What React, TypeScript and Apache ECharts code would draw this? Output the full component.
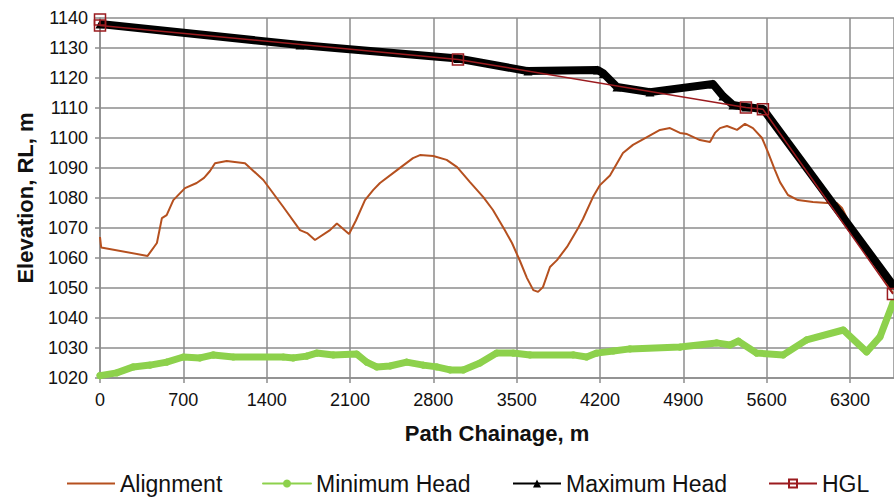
import React, { useEffect, useRef } from "react";
import * as echarts from "echarts";

const xTicks = [0, 700, 1400, 2100, 2800, 3500, 4200, 4900, 5600, 6300];
const yTicks = [1020, 1030, 1040, 1050, 1060, 1070, 1080, 1090, 1100, 1110, 1120, 1130, 1140];

const seriesNames = ["Alignment", "Minimum Head", "Maximum Head", "HGL"];

const alignment: [number, number][] = [
  [0, 1067], [10, 1063.5], [400, 1060.7], [478, 1065], [520, 1073.3], [560, 1074.3],
  [616, 1079.3], [714, 1083.3], [812, 1085], [874, 1086.7], [924, 1089], [966, 1091.6],
  [1064, 1092.3], [1218, 1091.6], [1372, 1086], [1540, 1077], [1680, 1069.3], [1740, 1068.3],
  [1806, 1066], [1932, 1069.3], [1990, 1071.5], [2092, 1068], [2150, 1072.5], [2226, 1079.3],
  [2296, 1082.7], [2352, 1085], [2495, 1089.3], [2629, 1093.3], [2688, 1094.3], [2800, 1094],
  [2912, 1092.7], [3000, 1090.3], [3108, 1085.3], [3220, 1080.3], [3301, 1076], [3400, 1069.3],
  [3461, 1065], [3528, 1059], [3587, 1053.3], [3640, 1049.3], [3680, 1048.7], [3721, 1050.3],
  [3780, 1057], [3839, 1059.3], [3923, 1063.7], [4007, 1069.3], [4057, 1073], [4141, 1080.3],
  [4200, 1084.3], [4284, 1087.5], [4393, 1095], [4477, 1097.7], [4595, 1100.3], [4704, 1102.7],
  [4788, 1103.3], [4872, 1101.7], [4931, 1101.3], [5040, 1099.3], [5124, 1098.7], [5166, 1101.7],
  [5208, 1103.3], [5267, 1104], [5351, 1102.7], [5418, 1104.7], [5485, 1103.3], [5561, 1100],
  [5611, 1095.3], [5670, 1089.3], [5712, 1085.3], [5779, 1081], [5863, 1079.3], [5989, 1078.7],
  [6107, 1078.3], [6191, 1078.3], [6233, 1076.7], [6283, 1072.7], [6384, 1066], [6468, 1060.3],
  [6552, 1055], [6661, 1048.3],
];

const minimumHead: [number, number][] = [
  [0, 1020.8], [140, 1021.7], [280, 1023.7], [420, 1024.3], [560, 1025.3], [700, 1027],
  [840, 1026.7], [952, 1027.7], [1120, 1027], [1540, 1027], [1624, 1026.7], [1736, 1027.3],
  [1820, 1028.3], [1960, 1027.7], [2156, 1028], [2240, 1025.3], [2324, 1023.7], [2436, 1024],
  [2576, 1025.3], [2716, 1024.3], [2828, 1023.7], [2940, 1022.7], [3052, 1022.7], [3192, 1025],
  [3332, 1028.3], [3472, 1028.3], [3612, 1027.7], [3976, 1027.7], [4088, 1027], [4172, 1028.3],
  [4312, 1029], [4452, 1029.7], [4872, 1030.3], [5180, 1031.7], [5292, 1031], [5362, 1032.3],
  [5516, 1028.3], [5740, 1027.7], [5936, 1032.7], [6244, 1036], [6440, 1028.7], [6552, 1033.7],
  [6661, 1045],
];

const maximumHead: [number, number][] = [
  [0, 1138], [1680, 1131], [3007, 1126.5], [3595, 1122.3], [4180, 1122.7], [4230, 1121.5],
  [4343, 1117], [4620, 1115.3], [5149, 1118], [5233, 1114], [5317, 1111], [5426, 1110.3],
  [5569, 1109.7], [6661, 1051],
];

const hgl: [number, number][] = [
  [0, 1139.5], [0, 1137.5], [3007, 1126.2], [5426, 1110.2], [5569, 1109.6], [6661, 1048],
];

const FONT = "'Liberation Sans', Arial, sans-serif";
const C_ALIGN = "#B5501F";
const C_MIN = "#8DD14C";
const C_MAX = "#000000";
const C_HGL = "#9B1B1F";

export default function App() {
  const ref = useRef<HTMLDivElement>(null);
  useEffect(() => {
    if (!ref.current) return;
    const chart = echarts.init(ref.current, null, { renderer: "svg" });
    const legendLefts = [66, 262, 512, 768];
    const legendIcons: any[] = [
      { name: seriesNames[0], itemStyle: { opacity: 0 }, lineStyle: { width: 2, color: C_ALIGN } },
      { name: seriesNames[1], lineStyle: { width: 2, color: C_MIN } },
      { name: seriesNames[2], lineStyle: { width: 2, color: C_MAX } },
      { name: seriesNames[3], lineStyle: { width: 2, color: C_HGL } },
    ];
    chart.setOption({
      animation: false,
      backgroundColor: "#ffffff",
      textStyle: { fontFamily: FONT },
      grid: { left: 100, right: 0, top: 18, bottom: 122, containLabel: false },
      legend: legendIcons.map((d, i) => ({
        left: legendLefts[i],
        top: 472,
        padding: 0,
        itemWidth: 48,
        itemHeight: 10,
        itemGap: 5,
        data: [d],
        textStyle: { fontFamily: FONT, fontSize: 23, color: "#111", padding: [0, 0, 0, 0] },
      })),
      xAxis: {
        type: "value",
        min: 0,
        max: 6670,
        interval: 700,
        name: "Path Chainage, m",
        nameLocation: "middle",
        nameGap: 44,
        nameTextStyle: { fontFamily: FONT, fontSize: 22, fontWeight: "bold", color: "#111" },
        axisLine: { show: true, lineStyle: { color: "#8c8c8c", width: 1.5 } },
        axisTick: { show: true, length: 5, lineStyle: { color: "#8c8c8c", width: 1.5 } },
        axisLabel: {
          fontFamily: FONT, fontSize: 18, color: "#111", margin: 13, showMaxLabel: false,
          formatter: (v: number) => (xTicks.includes(v) ? String(v) : ""),
        },
        splitLine: { show: true, lineStyle: { color: "#8c8c8c", width: 1.5 } },
      },
      yAxis: {
        type: "value",
        min: yTicks[0],
        max: yTicks[yTicks.length - 1],
        interval: 10,
        name: "Elevation, RL, m",
        nameLocation: "middle",
        nameGap: 64,
        nameTextStyle: { fontFamily: FONT, fontSize: 22, fontWeight: "bold", color: "#111" },
        axisLine: { show: true, lineStyle: { color: "#8c8c8c", width: 1.5 } },
        axisTick: { show: true, length: 5, lineStyle: { color: "#8c8c8c", width: 1.5 } },
        axisLabel: {
          fontFamily: FONT, fontSize: 18, color: "#111", margin: 12,
          formatter: (v: number) => String(v),
        },
        splitLine: { show: true, lineStyle: { color: "#8c8c8c", width: 1.5 } },
      },
      series: [
        {
          name: seriesNames[0],
          type: "line",
          data: alignment,
          showSymbol: false,
          symbol: "none",
          lineStyle: { color: C_ALIGN, width: 2 },
          itemStyle: { color: C_ALIGN },
          z: 2,
        },
        {
          name: seriesNames[1],
          type: "line",
          data: minimumHead,
          symbol: "circle",
          symbolSize: 7,
          lineStyle: { color: C_MIN, width: 7, join: "round", cap: "round" },
          itemStyle: { color: C_MIN },
          z: 3,
        },
        {
          name: seriesNames[2],
          type: "line",
          data: maximumHead,
          symbol: "triangle",
          symbolSize: 9,
          lineStyle: { color: C_MAX, width: 8, join: "round" },
          itemStyle: { color: C_MAX },
          clip: false,
          z: 4,
        },
        {
          name: seriesNames[3],
          type: "line",
          data: hgl,
          symbol: "rect",
          symbolSize: 11,
          lineStyle: { color: C_HGL, width: 1.5 },
          itemStyle: { color: "rgba(255,255,255,0)", borderColor: C_HGL, borderWidth: 1.5 },
          clip: false,
          z: 5,
        },
      ],
    });
    return () => chart.dispose();
  }, []);
  return <div ref={ref} style={{ width: 894, height: 500, position: "absolute", left: 0, top: 0 }} />;
}
